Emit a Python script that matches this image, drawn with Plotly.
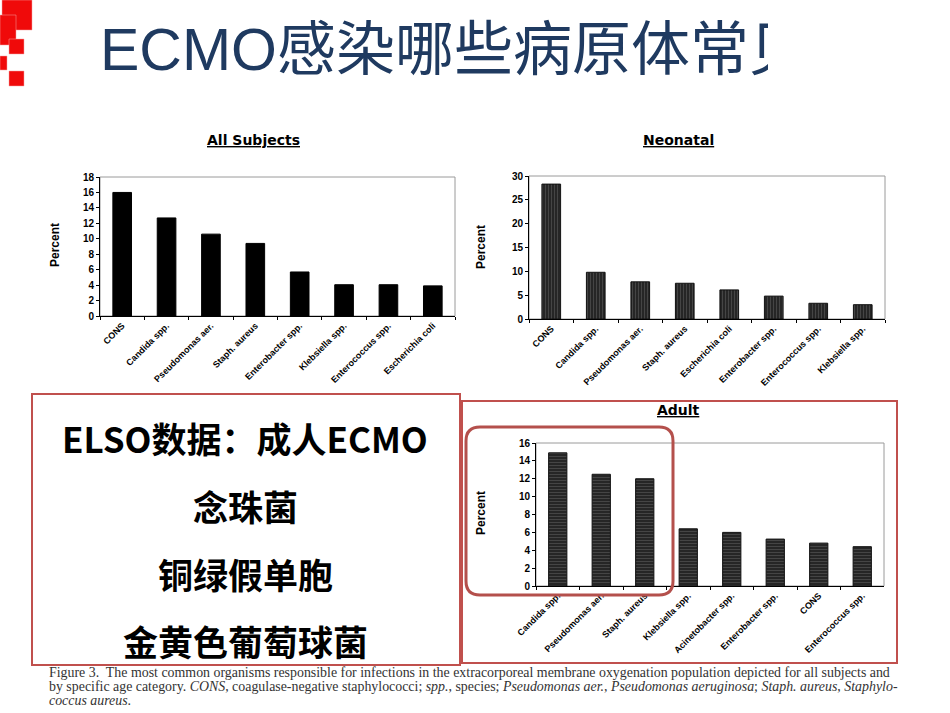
import plotly.graph_objects as go

# --- data ---
title_text = "ECMO感染哪些病原体常见"

all_labels = ["CONS", "Candida spp.", "Pseudomonas aer.", "Staph. aureus",
              "Enterobacter spp.", "Klebsiella spp.", "Enterococcus spp.", "Escherichia coli"]
all_values = [16.0, 12.7, 10.6, 9.4, 5.7, 4.05, 4.05, 3.9]

neo_labels = ["CONS", "Candida spp.", "Pseudomonas aer.", "Staph. aureus",
              "Escherichia coli", "Enterobacter spp.", "Enterococcus spp.", "Klebsiella spp."]
neo_values = [28.3, 9.8, 7.8, 7.5, 6.1, 4.8, 3.3, 3.0]

adult_labels = ["Candida spp.", "Pseudomonas aer.", "Staph. aureus", "Klebsiella spp.",
                "Acinetobacter spp.", "Enterobacter spp.", "CONS", "Enterococcus spp."]
adult_values = [14.9, 12.5, 12.0, 6.4, 6.0, 5.25, 4.8, 4.4]

box_lines = ["ELSO数据：成人ECMO", "念珠菌", "铜绿假单胞", "金黄色葡萄球菌"]

caption_lines = [
    "Figure 3.  The most common organisms responsible for infections in the extracorporeal "
    "membrane oxygenation population depicted for all subjects and",
    "by specific age category. <i>CONS</i>, coagulase-negative staphylococci; <i>spp.</i>, species; "
    "<i>Pseudomonas aer.</i>, <i>Pseudomonas aeruginosa</i>; <i>Staph. aureus</i>, <i>Staphylo-</i>",
    "<i>coccus aureus</i>.",
]

W, H = 950, 713


def px_x(v):
    return v / W


def px_y(v):
    return 1 - v / H


fig = go.Figure()

fig.add_trace(go.Bar(
    x=all_labels, y=all_values, xaxis="x", yaxis="y", width=0.42,
    marker=dict(color="black", line=dict(color="black", width=1)),
))
fig.add_trace(go.Bar(
    x=neo_labels, y=neo_values, xaxis="x2", yaxis="y2", width=0.42,
    marker=dict(color="#262626", line=dict(color="#111", width=1),
                pattern=dict(shape="|", fgcolor="#777", size=3, solidity=0.25)),
))
fig.add_trace(go.Bar(
    x=adult_labels, y=adult_values, xaxis="x3", yaxis="y3", width=0.42,
    marker=dict(color="#262626", line=dict(color="#111", width=1),
                pattern=dict(shape="-", fgcolor="#777", size=3, solidity=0.25)),
))

# slide title, clipped at the right like on the slide
fig.add_trace(go.Scatter(
    x=[100 / 768], y=[0.42], mode="text", text=[title_text],
    textposition="middle right", cliponaxis=True, hoverinfo="skip",
    textfont=dict(family="Liberation Sans, Noto Sans CJK SC", size=59, color="#1F3A60"),
    xaxis="x4", yaxis="y4",
))

xfont = dict(family="Liberation Sans, Arial", size=9, color="black", weight="bold")
yfont = dict(family="Liberation Sans, Arial", size=10, color="black", weight="bold")


def xax(domain, anchor):
    return dict(domain=domain, anchor=anchor, type="category", tickangle=-45,
                tickfont=xfont, ticks="outside", tickson="boundaries", ticklen=3,
                tickcolor="black", showline=True, linecolor="black", linewidth=1,
                showgrid=False, fixedrange=True, automargin=False)


def yax(domain, anchor, rng, dtick):
    return dict(domain=domain, anchor=anchor, range=rng, dtick=dtick,
                tickfont=yfont, ticks="outside", ticklen=3, tickcolor="black",
                showline=True, linecolor="black", linewidth=1, showgrid=False,
                zeroline=False, fixedrange=True, automargin=False)


fig.update_layout(
    width=W, height=H,
    margin=dict(l=0, r=0, t=0, b=0, pad=0, autoexpand=False),
    paper_bgcolor="white", plot_bgcolor="white",
    showlegend=False,
    xaxis=xax([px_x(100), px_x(455)], "y"),
    yaxis=yax([px_y(316), px_y(177)], "x", [0, 18], 2),
    xaxis2=xax([px_x(529), px_x(885)], "y2"),
    yaxis2=yax([px_y(319), px_y(176)], "x2", [0, 30], 5),
    xaxis3=xax([px_x(536), px_x(884)], "y3"),
    yaxis3=yax([px_y(586), px_y(443)], "x3", [0, 16], 2),
    xaxis4=dict(domain=[0, 768 / W], anchor="y4", range=[0, 1], visible=False,
                automargin=False),
    yaxis4=dict(domain=[px_y(95), 1], anchor="x4", range=[0, 1], visible=False,
                automargin=False),
)

shapes = []
# grey frames around the plot areas
for xr, yr in [("x", "y"), ("x2", "y2"), ("x3", "y3")]:
    shapes.append(dict(type="rect", xref=xr + " domain", yref=yr + " domain",
                       x0=0, x1=1, y0=0, y1=1, line=dict(color="#9a9a9a", width=1),
                       layer="below"))

# red squares in the top-left corner
for x0, y0, x1, y1 in [(2, 0, 32, 30), (0, 15, 16, 45), (9, 39, 24, 54),
                       (0, 56, 7, 70), (9, 71, 24, 86)]:
    shapes.append(dict(type="rect", xref="paper", yref="paper",
                       x0=px_x(x0), x1=px_x(x1), y0=px_y(y1), y1=px_y(y0),
                       fillcolor="#F00A0A", line=dict(color="#F4A0A0", width=0.5)))

# text box and adult panel frame
shapes.append(dict(type="rect", xref="paper", yref="paper",
                   x0=px_x(32), x1=px_x(460), y0=px_y(665), y1=px_y(394),
                   line=dict(color="#C0504D", width=2)))
shapes.append(dict(type="rect", xref="paper", yref="paper",
                   x0=px_x(462), x1=px_x(897), y0=px_y(663), y1=px_y(401),
                   line=dict(color="#C0504D", width=2)))

# rounded highlight around the top three adult bars
x0, y0, x1, y1, r = 466, 427, 673, 595, 14
rx, ry = r / W, r / H
X0, X1, Y0, Y1 = px_x(x0), px_x(x1), px_y(y0), px_y(y1)
path = (f"M {X0 + rx},{Y0} L {X1 - rx},{Y0} Q {X1},{Y0} {X1},{Y0 - ry} "
        f"L {X1},{Y1 + ry} Q {X1},{Y1} {X1 - rx},{Y1} "
        f"L {X0 + rx},{Y1} Q {X0},{Y1} {X0},{Y1 + ry} "
        f"L {X0},{Y0 - ry} Q {X0},{Y0} {X0 + rx},{Y0} Z")
shapes.append(dict(type="path", xref="paper", yref="paper", path=path,
                   line=dict(color="#B4504C", width=3)))

fig.update_layout(shapes=shapes)

ann = []
title_font = dict(family="DejaVu Sans", size=14, color="black")
for text, x, y in [("All Subjects", 253, 140), ("Neonatal", 678, 140), ("Adult", 678, 410)]:
    ann.append(dict(text=f"<b><u>{text}</u></b>", x=px_x(x), y=px_y(y), xref="paper",
                    yref="paper", xanchor="center", yanchor="middle", showarrow=False,
                    font=title_font))
for x, y in [(55, 245), (481, 247), (481, 513)]:
    ann.append(dict(text="<b>Percent</b>", x=px_x(x), y=px_y(y), xref="paper", yref="paper",
                    xanchor="center", yanchor="middle", showarrow=False, textangle=-90,
                    font=dict(family="Liberation Sans, Arial", size=12, color="black")))
for text, y in zip(box_lines, [437, 505, 573, 640]):
    ann.append(dict(text=f"<b>{text}</b>", x=px_x(245), y=px_y(y), xref="paper", yref="paper",
                    xanchor="center", yanchor="middle", showarrow=False,
                    font=dict(family="Noto Sans CJK SC", size=35, color="black")))
for text, y in zip(caption_lines, [672, 686, 700]):
    ann.append(dict(text=text, x=px_x(47), y=px_y(y), xref="paper", yref="paper",
                    xanchor="left", yanchor="middle", showarrow=False,
                    font=dict(family="Liberation Serif", size=13.9, color="#333")))
fig.update_layout(annotations=ann)

# the page's default body margin would push the slide 8px down and right
fig.write_html("out.html", config={"displayModeBar": False},
               post_script="document.body.style.margin='0';")
